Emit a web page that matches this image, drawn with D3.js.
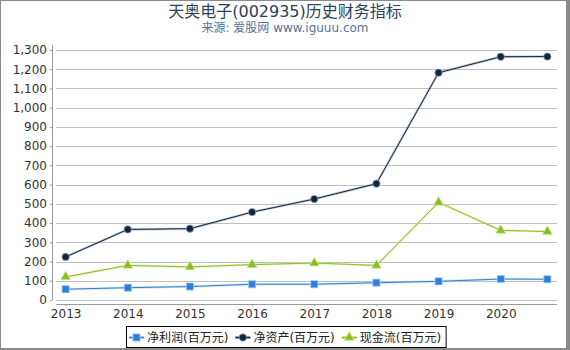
<!DOCTYPE html>
<html>
<head>
<meta charset="utf-8">
<script src="https://cdn.jsdelivr.net/npm/d3@7"></script>
<style>
  body { margin: 0; background: #fff; }
  text { font-family: "DejaVu Sans", "Noto Sans CJK SC", sans-serif; }
</style>
</head>
<body>
<svg id="chart" width="570" height="350"></svg>
<script>
// 数据
var years = [2013, 2014, 2015, 2016, 2017, 2018, 2019, 2020, 2020.75];
var yearTicks = [2013, 2014, 2015, 2016, 2017, 2018, 2019, 2020];
var netProfit = [56, 64, 70, 82, 82, 90, 97, 109, 108];
var netAssets = [224, 367, 371, 457, 525, 605, 1182, 1265, 1266];
var cashFlow = [120, 180, 172, 184, 192, 180, 508, 362, 356];
var yTicks = [0, 100, 200, 300, 400, 500, 600, 700, 800, 900, 1000, 1100, 1200, 1300];
var seriesNames = ["净利润(百万元)", "净资产(百万元)", "现金流(百万元)"];

var svg = d3.select("#chart");
var W = 570, H = 350;
var plot = { left: 56, right: 557, top: 45, bottom: 300 };

// 外框
svg.append("rect").attr("x", 0).attr("y", 0).attr("width", W).attr("height", H).attr("fill", "#fff");
svg.append("rect").attr("x", 0.5).attr("y", 0.5).attr("width", W - 3).attr("height", H - 2)
  .attr("fill", "none").attr("stroke", "#8a8a8a").attr("stroke-width", 1);
svg.append("rect").attr("x", W - 4).attr("y", 0).attr("width", 4).attr("height", H).attr("fill", "#8a8a8a");
svg.append("rect").attr("x", 0).attr("y", H - 2).attr("width", W).attr("height", 2).attr("fill", "#8a8a8a");

// 标题
svg.append("text").attr("x", 285).attr("y", 17).attr("text-anchor", "middle")
  .style("font-size", "16px").style("fill", "#2b3f5e").text("天奥电子(002935)历史财务指标");
svg.append("text").attr("x", 285).attr("y", 32).attr("text-anchor", "middle")
  .style("font-size", "12px").style("fill", "#5b7396").text("来源: 爱股网 www.iguuu.com");

var x = d3.scaleLinear().domain([2012.845, 2020.905]).range([plot.left, plot.right]);
var y = d3.scaleLinear().domain([0, 1326]).range([plot.bottom, plot.top]);

// 网格线
svg.append("g").selectAll("line").data(yTicks).enter().append("line")
  .attr("x1", plot.left).attr("x2", plot.right)
  .attr("y1", function(d) { return Math.round(y(d)) + 0.5; })
  .attr("y2", function(d) { return Math.round(y(d)) + 0.5; })
  .style("stroke", "#c0c0c0").style("stroke-width", 1);

// y轴 (偏移4px)
var yAxis = svg.append("g").attr("transform", "translate(" + (plot.left - 4) + ",0)")
  .call(d3.axisLeft(y).tickValues(yTicks).tickSize(2).tickPadding(3).tickFormat(d3.format(",")));
// x轴
var xAxis = svg.append("g").attr("transform", "translate(0," + (plot.bottom + 4) + ")")
  .call(d3.axisBottom(x).tickValues(yearTicks).tickSize(2).tickPadding(3).tickFormat(d3.format("d")));
[yAxis, xAxis].forEach(function(a) {
  a.select(".domain").attr("stroke", "#999");
  a.selectAll(".tick line").attr("stroke", "#999");
  a.selectAll(".tick text").style("font-size", "12px").style("fill", "#333")
    .style("font-family", "DejaVu Sans, sans-serif");
});
yAxis.select(".domain").attr("d", "M0.5," + plot.top + "V" + plot.bottom);
xAxis.select(".domain").attr("d", "M" + plot.left + ",0.5H" + plot.right);

var line = d3.line()
  .x(function(d, i) { return x(years[i]); })
  .y(function(d) { return y(d); });

var series = [
  { name: seriesNames[0], data: netProfit, color: "#2f7fd6", halo: "#a9cdf2", shape: "square" },
  { name: seriesNames[1], data: netAssets, color: "#102640", halo: "#8f9db0", shape: "circle" },
  { name: seriesNames[2], data: cashFlow, color: "#8cbd1c", halo: "#cfe5a0", shape: "triangle" }
];

var symbolOf = { square: d3.symbolSquare, circle: d3.symbolCircle, triangle: d3.symbolTriangle };
var sizeOf = { square: 52, circle: 42, triangle: 42 };

function marker(g, shape, color, halo, cx, cy) {
  g.append("path")
    .attr("d", d3.symbol().type(symbolOf[shape]).size(sizeOf[shape])())
    .attr("transform", "translate(" + cx + "," + cy + ")")
    .attr("fill", color).attr("stroke", halo).attr("stroke-width", 0.8);
}

series.forEach(function(s) {
  var g = svg.append("g");
  g.append("path").datum(s.data).attr("d", line)
    .attr("fill", "none").attr("stroke", s.halo).attr("stroke-width", 2.5).attr("opacity", 0.55);
  g.append("path").datum(s.data).attr("d", line)
    .attr("fill", "none").attr("stroke", s.color).attr("stroke-width", 1);
  s.data.forEach(function(v, i) {
    marker(g, s.shape, s.color, s.halo, x(years[i]), y(v));
  });
});

// 图例
var lg = svg.append("g");
var box = lg.append("rect").attr("x", 126.5).attr("y", 326.5).attr("height", 21)
  .attr("fill", "#fff").attr("stroke", "#000").attr("stroke-width", 1);
var cx = 129;
series.forEach(function(s) {
  lg.append("line").attr("x1", cx).attr("x2", cx + 15).attr("y1", 337.5).attr("y2", 337.5)
    .attr("stroke", s.halo).attr("stroke-width", 3);
  lg.append("line").attr("x1", cx).attr("x2", cx + 15).attr("y1", 337.5).attr("y2", 337.5)
    .attr("stroke", s.color).attr("stroke-width", 1);
  marker(lg, s.shape, s.color, s.halo, cx + 7.5, 337.5);
  var t = lg.append("text").attr("x", cx + 18).attr("y", 342)
    .style("font-size", "12px").style("fill", "#222").text(s.name);
  cx += 18 + t.node().getComputedTextLength() + 7;
});
box.attr("width", cx - 126.5 - 2);
</script>
</body>
</html>
